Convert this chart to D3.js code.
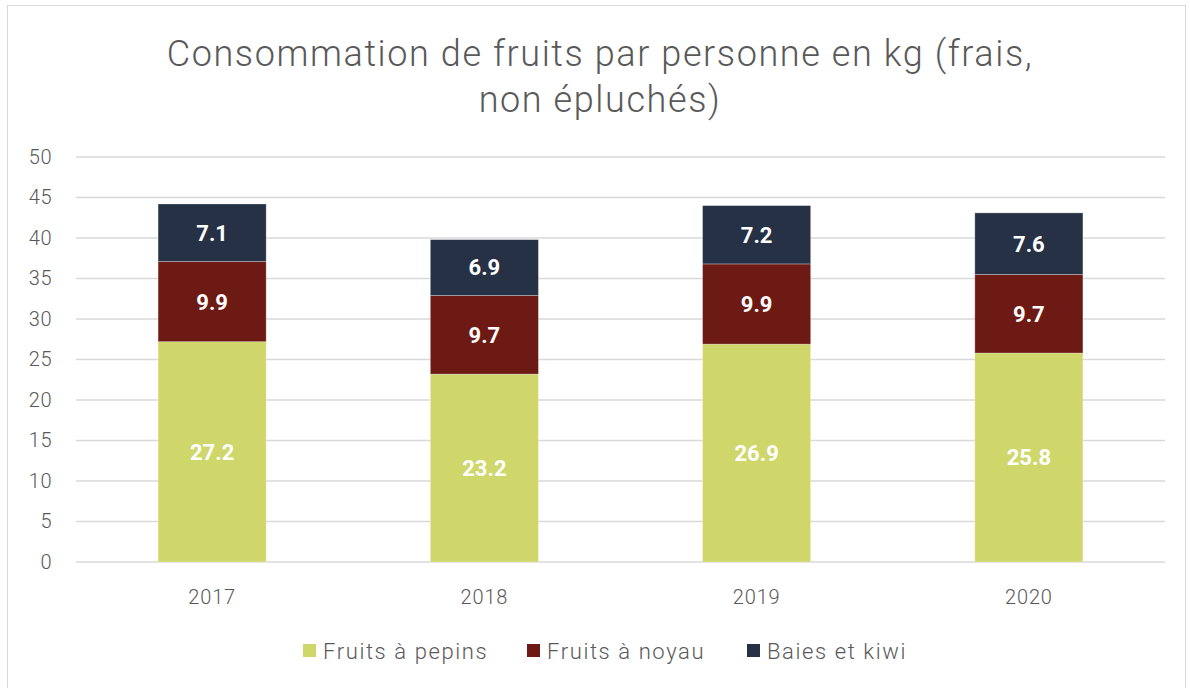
<!DOCTYPE html>
<html>
<head>
<meta charset="utf-8">
<script src="https://cdn.jsdelivr.net/npm/d3@7"></script>
<style>
  body { margin: 0; background: #fff; }
  text { font-family: "Roboto", sans-serif; }
</style>
</head>
<body>
<div id="chart"></div>
<script>
// Data
const years = ["2017", "2018", "2019", "2020"];
const seriesNames = ["Fruits à pepins", "Fruits à noyau", "Baies et kiwi"];
const pepins = [27.2, 23.2, 26.9, 25.8];
const noyau = [9.9, 9.7, 9.9, 9.7];
const baies = [7.1, 6.9, 7.2, 7.6];
const yTicks = [0, 5, 10, 15, 20, 25, 30, 35, 40, 45, 50];
const colors = ["#d0d76a", "#6e1a14", "#263145"];
const titleLines = ["Consommation de fruits par personne en kg (frais,", "non épluchés)"];

const W = 1190, H = 688;

const svg = d3.select("#chart")
  .append("svg")
  .attr("width", W)
  .attr("height", H);

// Outer frame
svg.append("rect")
  .attr("x", 7.5).attr("y", 5.5)
  .attr("width", 1178).attr("height", 690)
  .attr("fill", "#fff")
  .attr("stroke", "#d9d9d9")
  .attr("stroke-width", 1);

// Build table for the stack
const table = years.map((y, i) => ({
  year: y,
  [seriesNames[0]]: pepins[i],
  [seriesNames[1]]: noyau[i],
  [seriesNames[2]]: baies[i]
}));
const stacked = d3.stack().keys(seriesNames)(table);

// Scales
const xScale = d3.scaleBand()
  .domain(years)
  .range([76, 1165])
  .paddingInner(0.603)
  .paddingOuter(0.3015);

const yScale = d3.scaleLinear()
  .domain([0, 50])
  .range([562, 157]);

const color = d3.scaleOrdinal().domain(seriesNames).range(colors);

// Gridlines
svg.append("g")
  .selectAll("line")
  .data(yTicks)
  .join("line")
  .attr("x1", 76).attr("x2", 1165)
  .attr("y1", d => yScale(d)).attr("y2", d => yScale(d))
  .attr("stroke", "#d9d9d9")
  .attr("stroke-width", 1.5);

// Y axis labels
const yAxis = d3.axisLeft(yScale).tickValues(yTicks).tickSize(0).tickPadding(0);
const yG = svg.append("g")
  .attr("transform", "translate(52,0)")
  .call(yAxis);
yG.select(".domain").remove();
yG.selectAll("text")
  .attr("font-family", "Roboto, sans-serif")
  .attr("font-weight", 300)
  .attr("font-size", 20)
  .attr("letter-spacing", 0.5)
  .attr("fill", "#595959");

// Bars
const layers = svg.append("g")
  .selectAll("g")
  .data(stacked)
  .join("g")
  .attr("fill", d => color(d.key));

layers.selectAll("rect")
  .data(d => d)
  .join("rect")
  .attr("x", d => xScale(d.data.year))
  .attr("y", d => yScale(d[1]))
  .attr("width", xScale.bandwidth())
  .attr("height", d => yScale(d[0]) - yScale(d[1]))
  .attr("stroke", "rgba(255,255,255,0.35)")
  .attr("stroke-width", 0.8);

// Data labels
layers.selectAll("text")
  .data(d => d)
  .join("text")
  .attr("x", d => xScale(d.data.year) + xScale.bandwidth() / 2)
  .attr("y", d => (yScale(d[0]) + yScale(d[1])) / 2)
  .attr("dy", "0.36em")
  .attr("text-anchor", "middle")
  .attr("font-size", 22)
  .attr("font-weight", 700)
  .attr("fill", "#fff")
  .text(d => d3.format(".1f")(d[1] - d[0]));

// X axis labels
const xAxis = d3.axisBottom(xScale).tickSize(0).tickPadding(0);
const xG = svg.append("g")
  .attr("transform", "translate(0,590)")
  .call(xAxis);
xG.select(".domain").remove();
xG.selectAll("text")
  .attr("font-family", "Roboto, sans-serif")
  .attr("font-weight", 300)
  .attr("font-size", 20)
  .attr("letter-spacing", 0.8)
  .attr("fill", "#595959");

// Title
svg.append("text")
  .attr("text-anchor", "middle")
  .attr("font-weight", 300)
  .attr("font-size", 36)
  .attr("letter-spacing", 1.6)
  .attr("fill", "#595959")
  .selectAll("tspan")
  .data(titleLines)
  .join("tspan")
  .attr("x", 600)
  .attr("y", (d, i) => 66 + i * 46)
  .text(d => d);

// Legend
const legendX = [303, 527, 747];
const legend = svg.append("g");
const legendRow = legend.selectAll("g")
  .data(seriesNames)
  .join("g")
  .attr("transform", (d, i) => `translate(${legendX[i]},651)`);

legendRow.append("rect")
  .attr("x", 0).attr("y", -7)
  .attr("width", 13).attr("height", 13)
  .attr("fill", d => color(d));

legendRow.append("text")
  .attr("x", 20)
  .attr("y", 0)
  .attr("dy", "0.35em")
  .attr("font-weight", 300)
  .attr("font-size", 22)
  .attr("letter-spacing", 1.6)
  .attr("fill", "#595959")
  .text(d => d);
</script>
</body>
</html>
